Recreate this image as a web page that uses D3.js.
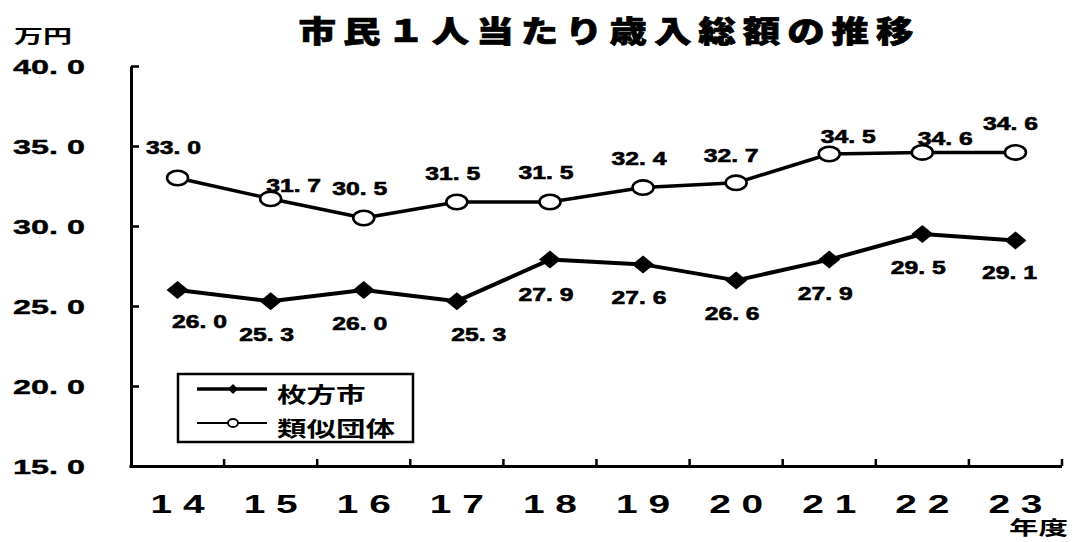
<!DOCTYPE html>
<html>
<head>
<meta charset="utf-8">
<script src="https://cdn.jsdelivr.net/npm/d3@7"></script>
<style>
  body { margin: 0; background: #fff; }
  svg { display: block; }
</style>
</head>
<body>
<svg id="chart" width="1073" height="542"></svg>
<script>
// ---- data ----
const years = ["14", "15", "16", "17", "18", "19", "20", "21", "22", "23"];
const hirakata = [26.0, 25.3, 26.0, 25.3, 27.9, 27.6, 26.6, 27.9, 29.5, 29.1];
const similar = [33.0, 31.7, 30.5, 31.5, 31.5, 32.4, 32.7, 34.5, 34.6, 34.6];
const yTicks = [15, 20, 25, 30, 35, 40];
const seriesNames = ["枚方市", "類似団体"];
const titleText = "市民１人当たり歳入総額の推移";
const yUnit = "万円";
const xUnit = "年度";

// ---- label nudges (px from each marker) ----
const hiraLabelDx = [22, -4, -4, 22, -4, -4, -4, -4, -4, -6];
const hiraLabelDy = [38, 40, 40, 40, 41, 40, 40, 40, 40, 39];
const simLabelDx = [-4, 23, -4, -4, -4, -4, -5, 19, 23, -5];
const simLabelDy = [-24, -7, -23, -22, -23, -23, -21, -11, -7, -22];

const NUM_FONT = "'Liberation Sans', Arial, sans-serif";
const JP_FONT = "'Noto Sans CJK JP', 'Noto Sans CJK SC', sans-serif";

const svg = d3.select("#chart");

const plot = { left: 131, right: 1062, top: 66, bottom: 466 };

const x = d3.scaleBand().domain(years).range([plot.left, plot.right]).padding(0);
const y = d3.scaleLinear().domain([15, 40]).range([plot.bottom, plot.top]);
const cx = d => x(d) + x.bandwidth() / 2;

// ---- title ----
svg.append("text")
  .attr("transform", "translate(606,42) scale(1.25,1)")
  .attr("text-anchor", "middle")
  .attr("font-family", JP_FONT)
  .attr("font-weight", 900)
  .attr("font-size", 30)
  .attr("stroke", "#000")
  .attr("stroke-width", 0.7)
  .attr("textLength", 492)
  .attr("lengthAdjust", "spacing")
  .text(titleText);

// ---- unit labels ----
svg.append("text")
  .attr("x", 14).attr("y", 43)
  .attr("font-family", JP_FONT)
  .attr("font-weight", 700)
  .attr("font-size", 18)
  .attr("textLength", 58)
  .attr("lengthAdjust", "spacingAndGlyphs")
  .text(yUnit);

svg.append("text")
  .attr("x", 1009).attr("y", 535)
  .attr("font-family", JP_FONT)
  .attr("font-weight", 700)
  .attr("font-size", 19)
  .attr("textLength", 59)
  .attr("lengthAdjust", "spacingAndGlyphs")
  .text(xUnit);

// ---- y axis ----
const yAxis = svg.append("g")
  .attr("transform", `translate(${plot.left},0)`)
  .call(d3.axisLeft(y)
    .tickValues(yTicks)
    .tickSizeInner(-8)
    .tickSizeOuter(0)
    .tickPadding(46)
    .tickFormat(d => d3.format(".1f")(d).replace(".", ". ")));

yAxis.attr("font-family", null).attr("font-size", null);
yAxis.select(".domain").attr("stroke", "#000").attr("stroke-width", 3);
yAxis.selectAll(".tick line").attr("stroke", "#000").attr("stroke-width", 2.5);
yAxis.selectAll(".tick text")
  .attr("fill", "#000")
  .attr("stroke", "#000")
  .attr("stroke-width", 0.4)
  .attr("font-family", NUM_FONT)
  .attr("font-weight", 700)
  .attr("font-size", 21)
  .attr("dy", "0.36em")
  .attr("textLength", 72)
  .attr("lengthAdjust", "spacingAndGlyphs");

// ---- x axis ----
const xAxis = svg.append("g");
xAxis.append("line")
  .attr("x1", plot.left - 1.5).attr("x2", plot.right)
  .attr("y1", y(15) + 0.5).attr("y2", y(15) + 0.5)
  .attr("stroke", "#000").attr("stroke-width", 3);

xAxis.selectAll("line.xtick")
  .data(years)
  .join("line")
  .attr("class", "xtick")
  .attr("x1", d => x(d) + x.bandwidth())
  .attr("x2", d => x(d) + x.bandwidth())
  .attr("y1", y(15))
  .attr("y2", y(15) - 7)
  .attr("stroke", "#000").attr("stroke-width", 2.5);

xAxis.selectAll("text.xlabel")
  .data(years)
  .join("text")
  .attr("class", "xlabel")
  .attr("x", d => cx(d))
  .attr("y", 513)
  .attr("text-anchor", "middle")
  .attr("font-family", NUM_FONT)
  .attr("font-weight", 700)
  .attr("font-size", 25)
  .attr("textLength", 54)
  .attr("lengthAdjust", "spacingAndGlyphs")
  .text(d => d.split("").join(" "));

// ---- lines ----
const line = d3.line()
  .x((d, i) => cx(years[i]))
  .y(d => y(d));

svg.append("path")
  .datum(hirakata)
  .attr("d", line)
  .attr("fill", "none")
  .attr("stroke", "#000")
  .attr("stroke-width", 4)
  .attr("stroke-linejoin", "round");

svg.append("path")
  .datum(similar)
  .attr("d", line)
  .attr("fill", "none")
  .attr("stroke", "#000")
  .attr("stroke-width", 3.5)
  .attr("stroke-linejoin", "round");

// ---- markers ----
const diamond = (w, h) => `M0,${-h}L${w},0L0,${h}L${-w},0Z`;

svg.selectAll("path.hira-marker")
  .data(hirakata)
  .join("path")
  .attr("class", "hira-marker")
  .attr("transform", (d, i) => `translate(${cx(years[i])},${y(d)})`)
  .attr("d", diamond(11, 9))
  .attr("fill", "#000");

svg.selectAll("ellipse.sim-marker")
  .data(similar)
  .join("ellipse")
  .attr("class", "sim-marker")
  .attr("cx", (d, i) => cx(years[i]))
  .attr("cy", d => y(d))
  .attr("rx", 10.5)
  .attr("ry", 7.2)
  .attr("fill", "#fff")
  .attr("stroke", "#000")
  .attr("stroke-width", 2.6);

// ---- value labels ----
const fmt = v => d3.format(".1f")(v).replace(".", ". ");

function valueLabels(values, dxs, dys, cls) {
  svg.selectAll("text." + cls)
    .data(values)
    .join("text")
    .attr("class", cls)
    .attr("x", (d, i) => cx(years[i]) + dxs[i])
    .attr("y", (d, i) => y(d) + dys[i])
    .attr("text-anchor", "middle")
    .attr("font-family", NUM_FONT)
    .attr("font-weight", 700)
    .attr("font-size", 18)
    .attr("stroke", "#000")
    .attr("stroke-width", 0.6)
    .attr("textLength", 55)
    .attr("lengthAdjust", "spacingAndGlyphs")
    .text(d => fmt(d));
}
valueLabels(hirakata, hiraLabelDx, hiraLabelDy, "hira-label");
valueLabels(similar, simLabelDx, simLabelDy, "sim-label");

// ---- legend ----
const legend = svg.append("g");
legend.append("rect")
  .attr("x", 178).attr("y", 374)
  .attr("width", 235).attr("height", 68)
  .attr("fill", "#fff")
  .attr("stroke", "#000")
  .attr("stroke-width", 2.5);

const rows = [
  { name: seriesNames[0], y: 389, width: 3.5, marker: "diamond" },
  { name: seriesNames[1], y: 423, width: 2, marker: "circle" }
];

rows.forEach(r => {
  legend.append("line")
    .attr("x1", 197).attr("x2", 267)
    .attr("y1", r.y).attr("y2", r.y)
    .attr("stroke", "#000").attr("stroke-width", r.width);
  if (r.marker === "diamond") {
    legend.append("path")
      .attr("transform", `translate(233,${r.y})`)
      .attr("d", diamond(5, 5))
      .attr("fill", "#000");
  } else {
    legend.append("ellipse")
      .attr("cx", 233).attr("cy", r.y)
      .attr("rx", 5).attr("ry", 4)
      .attr("fill", "#fff")
      .attr("stroke", "#000").attr("stroke-width", 1.8);
  }
  legend.append("text")
    .attr("x", 277).attr("y", r.y + 13)
    .attr("font-family", JP_FONT)
    .attr("font-weight", 700)
    .attr("font-size", 21)
    .attr("textLength", r.name.length * 29.5)
    .attr("lengthAdjust", "spacingAndGlyphs")
    .text(r.name);
});
</script>
</body>
</html>
